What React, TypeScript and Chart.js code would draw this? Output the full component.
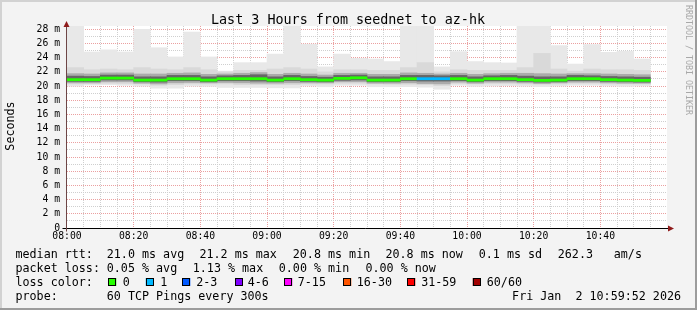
import React, { useEffect, useRef } from 'react';
import { Chart, registerables } from 'chart.js';

Chart.register(...registerables);

// ---------- data ----------
const stepStarts = [
  '08:00', '08:05', '08:10', '08:15', '08:20', '08:25', '08:30', '08:35', '08:40', '08:45',
  '08:50', '08:55', '09:00', '09:05', '09:10', '09:15', '09:20', '09:25', '09:30', '09:35',
  '09:40', '09:45', '09:50', '09:55', '10:00', '10:05', '10:10', '10:15', '10:20', '10:25',
  '10:30', '10:35', '10:40', '10:45', '10:50',
];
const xTickLabels = ['08:00', '08:20', '08:40', '09:00', '09:20', '09:40', '10:00', '10:20', '10:40'];

const smokeMax = [28.4, 24.8, 25.1, 24.8, 28.0, 25.4, 24.1, 27.6, 24.1, 22.1, 23.3, 23.3, 24.5, 28.4, 25.9, 22.7, 24.5, 23.9, 23.8, 23.45, 28.4, 28.4, 22.7, 24.85, 23.45, 23.3, 23.25, 28.4, 28.4, 25.7, 23.1, 25.85, 24.75, 24.9, 23.8];
const p90 = [22.6, 22.3, 22.4, 22.3, 22.6, 22.4, 22.3, 22.6, 22.3, 22.0, 22.2, 22.2, 22.4, 22.6, 22.4, 22.0, 22.3, 22.3, 22.2, 22.2, 22.6, 23.3, 22.0, 22.3, 22.2, 22.2, 22.2, 22.6, 24.6, 22.4, 22.1, 22.4, 22.3, 22.3, 22.2];
const p75 = [21.75, 21.7, 21.85, 21.85, 21.7, 21.7, 21.8, 21.85, 21.65, 21.7, 21.8, 21.9, 21.65, 21.8, 21.7, 21.55, 21.8, 21.8, 21.65, 21.65, 21.85, 21.8, 21.7, 21.8, 21.65, 21.75, 21.8, 21.8, 21.75, 21.7, 21.75, 21.75, 21.7, 21.65, 21.6];
const p60 = [21.4, 21.35, 21.55, 21.55, 21.3, 21.3, 21.5, 21.5, 21.3, 21.45, 21.5, 21.6, 21.3, 21.5, 21.35, 21.25, 21.5, 21.55, 21.3, 21.3, 21.5, 21.5, 21.45, 21.5, 21.3, 21.45, 21.5, 21.4, 21.3, 21.3, 21.5, 21.45, 21.35, 21.3, 21.25];
const medians = [20.9, 20.9, 21.12, 21.12, 20.84, 20.84, 21.03, 21.03, 20.84, 21.03, 21.03, 21.03, 20.84, 21.03, 20.9, 20.84, 21.08, 21.16, 20.84, 20.84, 21.03, 21.03, 21.03, 21.03, 20.84, 21.03, 21.03, 20.9, 20.8, 20.84, 21.03, 21.03, 20.9, 20.84, 20.8];
const p40 = [20.65, 20.65, 20.85, 20.85, 20.6, 20.55, 20.75, 20.75, 20.6, 20.75, 20.75, 20.7, 20.6, 20.75, 20.65, 20.6, 20.8, 20.85, 20.6, 20.6, 20.75, 20.7, 20.7, 20.75, 20.6, 20.75, 20.75, 20.65, 20.55, 20.6, 20.75, 20.75, 20.65, 20.6, 20.55];
const p25 = [20.45, 20.45, 20.6, 20.6, 20.4, 20.3, 20.45, 20.5, 20.45, 20.5, 20.45, 20.4, 20.4, 20.45, 20.45, 20.45, 20.6, 20.6, 20.4, 20.4, 20.45, 20.35, 20.3, 20.55, 20.4, 20.55, 20.55, 20.45, 20.35, 20.45, 20.55, 20.55, 20.45, 20.4, 20.4];
const p10 = [20.3, 20.35, 20.4, 20.35, 20.3, 20.1, 20.2, 20.3, 20.3, 20.3, 20.2, 20.2, 20.2, 20.2, 20.3, 20.3, 20.4, 20.4, 20.3, 20.25, 20.25, 20.2, 20.05, 20.35, 20.3, 20.35, 20.35, 20.3, 20.25, 20.3, 20.4, 20.4, 20.3, 20.3, 20.3];
const smokeMin = [20.0, 20.15, 20.2, 20.1, 20.0, 19.7, 19.7, 20.0, 19.95, 19.8, 19.8, 19.8, 19.75, 19.75, 20.0, 19.9, 20.1, 20.1, 19.9, 19.9, 19.9, 19.85, 19.55, 20.1, 19.95, 20.0, 20.05, 20.0, 19.9, 20.0, 20.1, 20.1, 20.0, 19.95, 20.0];
const lossPings = [0, 0, 0, 0, 0, 0, 0, 0, 0, 0, 0, 0, 0, 0, 0, 0, 0, 0, 0, 0, 0, 1, 1, 0, 0, 0, 0, 0, 0, 0, 0, 0, 0, 0, 0];

const lossLabels = ['0', '1', '2-3', '4-6', '7-15', '16-30', '31-59', '60/60'];
const lossBucketMin = [0, 1, 2, 4, 7, 16, 31, 60];
const lossColors = ['#26ff00', '#00b8ff', '#0059ff', '#7e00ff', '#ff00ff', '#ff5500', '#ff0000', '#a10000'];

const titleText = 'Last 3 Hours from seednet to az-hk';
const yAxisTitle = 'Seconds';
const watermark = 'RRDTOOL / TOBI OETIKER';
const statsRtt = ['21.0 ms avg', '21.2 ms max', '20.8 ms min', '20.8 ms now', '0.1 ms sd', '262.3', 'am/s'];
const statsLoss = ['0.05 % avg', '1.13 % max', '0.00 % min', '0.00 % now'];
const probeText = '60 TCP Pings every 300s';
const dateText = 'Fri Jan  2 10:59:52 2026';

const STEP_MIN = 5;
const SPAN_MIN = 180;
const Y_MAX = 28.46;

// ---------- helpers ----------
const baseMin = (() => { const [h, m] = xTickLabels[0].split(':').map(Number); return h * 60 + m; })();
const toMin = (s: string) => { const [h, m] = s.split(':').map(Number); return h * 60 + m - baseMin; };
const centers = stepStarts.map((s) => toMin(s) + STEP_MIN / 2);
const lossColorOf = (n: number) => {
  let idx = 0;
  lossBucketMin.forEach((v, i) => { if (n >= v) idx = i; });
  return lossColors[idx];
};

const MONO = '"DejaVu Sans Mono", monospace';

const decorPlugin = {
  id: 'rrdDecor',
  beforeDraw(chart: any) {
    const { ctx, width, height, chartArea } = chart;
    ctx.save();
    ctx.fillStyle = '#f3f3f3';
    ctx.fillRect(0, 0, width, height);
    ctx.fillStyle = '#d2d2d2';
    ctx.fillRect(0, 0, width, 2);
    ctx.fillRect(0, 0, 2, height);
    ctx.fillStyle = '#9c9c9c';
    ctx.fillRect(width - 2, 0, 2, height);
    ctx.fillRect(0, height - 2, width, 2);
    ctx.fillStyle = '#ffffff';
    ctx.fillRect(chartArea.left, chartArea.top, chartArea.right - chartArea.left, chartArea.bottom - chartArea.top);
    ctx.restore();
  },
  afterDraw(chart: any) {
    const { ctx, chartArea, scales } = chart;
    const xs = scales.x;
    const ys = scales.y;
    const x0 = Math.round(xs.getPixelForValue(0)) - 0.5;
    const y0 = Math.round(ys.getPixelForValue(0)) + 0.5;
    const xEnd = xs.getPixelForValue(SPAN_MIN);
    ctx.save();
    ctx.lineWidth = 1;
    ctx.strokeStyle = '#000000';
    ctx.beginPath();
    ctx.moveTo(x0 - 4, y0);
    ctx.lineTo(xEnd + 2, y0);
    ctx.stroke();
    ctx.strokeStyle = '#6e4646';
    ctx.beginPath();
    ctx.moveTo(x0, y0 + 3);
    ctx.lineTo(x0, chartArea.top - 3);
    ctx.stroke();
    ctx.fillStyle = '#8f1b1b';
    ctx.beginPath();
    ctx.moveTo(x0 - 3, chartArea.top + 1);
    ctx.lineTo(x0 + 3, chartArea.top + 1);
    ctx.lineTo(x0, chartArea.top - 5);
    ctx.closePath();
    ctx.fill();
    ctx.beginPath();
    ctx.moveTo(xEnd + 1, y0 - 3);
    ctx.lineTo(xEnd + 1, y0 + 3);
    ctx.lineTo(xEnd + 7, y0);
    ctx.closePath();
    ctx.fill();

    ctx.fillStyle = '#000000';
    ctx.font = `13.4px ${MONO}`;
    ctx.textAlign = 'center';
    ctx.textBaseline = 'alphabetic';
    ctx.fillText(titleText, 348, 23.5);

    ctx.save();
    ctx.font = `11.7px ${MONO}`;
    ctx.translate(11, 126);
    ctx.rotate(-Math.PI / 2);
    ctx.textBaseline = 'middle';
    ctx.fillText(yAxisTitle, 0, 0);
    ctx.restore();

    ctx.save();
    ctx.font = `8.3px ${MONO}`;
    ctx.fillStyle = '#a8a8a8';
    ctx.translate(688.5, 60);
    ctx.rotate(Math.PI / 2);
    ctx.textAlign = 'center';
    ctx.textBaseline = 'middle';
    ctx.fillText(watermark, 0, 0);
    ctx.restore();

    ctx.font = `11.7px ${MONO}`;
    ctx.textAlign = 'left';
    ctx.textBaseline = 'alphabetic';
    const lx = 15.5;
    const rttX = [106.8, 199.5, 292.8, 385.5, 478.8, 557.8, 613.8];
    ctx.fillText('median rtt:', lx, 257.5);
    statsRtt.forEach((t, i) => ctx.fillText(t, rttX[i], 257.5));
    const lossX = [106.8, 192.8, 278.8, 365.5];
    ctx.fillText('packet loss:', lx, 271.5);
    statsLoss.forEach((t, i) => ctx.fillText(t, lossX[i], 271.5));
    ctx.fillText('loss color:', lx, 285.5);
    const swX = [108.3, 145.7, 182.3, 235, 284.3, 343.3, 407.3, 472.7];
    const swTextX = [122.8, 160.2, 196.2, 247.8, 297.8, 356.8, 421.2, 486.8];
    lossLabels.forEach((t, i) => {
      ctx.fillStyle = lossColors[i];
      ctx.fillRect(swX[i], 278, 8, 8);
      ctx.strokeStyle = '#000000';
      ctx.lineWidth = 1;
      ctx.strokeRect(Math.round(swX[i]) + 0.5, 278.5, 7, 7);
      ctx.fillStyle = '#000000';
      ctx.fillText(t, swTextX[i], 285.5);
    });
    ctx.fillText('probe:', lx, 299.5);
    ctx.fillText(probeText, 106.8, 299.5);
    ctx.textAlign = 'right';
    ctx.fillText(dateText, 681, 299.5);
    ctx.restore();
  },
};

export default function App() {
  const canvasRef = useRef<HTMLCanvasElement | null>(null);

  useEffect(() => {
    if (!canvasRef.current) return;
    const rangeData = (lo: number[], hi: number[]) => centers.map((x, i) => ({ x, y: [lo[i], hi[i]] }));
    const layer = (lo: number[], hi: number[], color: string, order: number) => ({
      type: 'bar' as const,
      data: rangeData(lo, hi),
      backgroundColor: color,
      borderWidth: 0,
      grouped: false,
      barPercentage: 1,
      categoryPercentage: 1,
      order,
    });
    const medianHalf = 0.15;
    const chart = new Chart(canvasRef.current, {
      type: 'bar',
      data: {
        datasets: [
          layer(smokeMin, smokeMax, '#e8e8e8', 6),
          layer(p10, p90, '#d9d9d9', 5),
          layer(p25, p75, '#ababab', 4),
          layer(p40, p60, '#666666', 3),
          {
            type: 'bar',
            data: centers.map((x, i) => ({ x, y: [medians[i] - medianHalf, medians[i] + medianHalf] })),
            backgroundColor: lossPings.map((n) => lossColorOf(n)),
            borderWidth: 0,
            grouped: false,
            barPercentage: 1,
            categoryPercentage: 1,
            order: 1,
          },
        ] as any,
      },
      options: {
        animation: false,
        responsive: false,
        maintainAspectRatio: false,
        events: [],
        layout: { padding: { left: 0, right: 30, top: 26, bottom: 0 } },
        plugins: {
          legend: { display: false },
          tooltip: { enabled: false },
          title: { display: false },
        },
        scales: {
          x: {
            type: 'linear',
            min: 0,
            max: SPAN_MIN,
            offset: false,
            z: 1,
            border: { display: false, dash: [1, 1] },
            grid: {
              offset: false,
              drawTicks: false,
              lineWidth: 1,
              color: (c: any) => {
                const v = c.tick ? c.tick.value : 0;
                if (v <= 0 || v >= SPAN_MIN) return 'rgba(0,0,0,0)';
                return v % 20 === 0 ? '#eba0a0' : '#cfcfcf';
              },
            },
            ticks: {
              stepSize: STEP_MIN,
              autoSkip: false,
              maxRotation: 0,
              minRotation: 0,
              includeBounds: false,
              padding: 3,
              color: '#000000',
              font: { family: MONO, size: 9.75 },
              callback: (v: any) => {
                const n = Number(v);
                if (n % 20 !== 0 || n >= SPAN_MIN) return '';
                return xTickLabels[n / 20] ?? '';
              },
            },
            afterFit: (s: any) => { s.height = 82; },
          },
          y: {
            type: 'linear',
            min: 0,
            max: Y_MAX,
            z: 1,
            border: { display: false, dash: [1, 1] },
            grid: {
              drawTicks: false,
              lineWidth: 1,
              color: (c: any) => {
                const v = c.tick ? c.tick.value : 0;
                if (v <= 0) return 'rgba(0,0,0,0)';
                return v % 2 === 0 ? '#eba0a0' : '#cfcfcf';
              },
            },
            ticks: {
              stepSize: 1,
              autoSkip: false,
              includeBounds: false,
              padding: 7,
              color: '#000000',
              font: { family: MONO, size: 9.75 },
              callback: (v: any) => {
                const n = Number(v);
                if (n % 2 !== 0) return '';
                return n === 0 ? '0' : `${n} m`;
              },
            },
            afterFit: (s: any) => { s.width = 67; },
          },
        },
      } as any,
      plugins: [decorPlugin],
    });
    return () => chart.destroy();
  }, []);

  return (
    <div style={{ position: 'fixed', left: 0, top: 0, width: 697, height: 310 }}>
      <canvas ref={canvasRef} width={697} height={310} style={{ display: 'block', width: 697, height: 310 }} />
    </div>
  );
}
